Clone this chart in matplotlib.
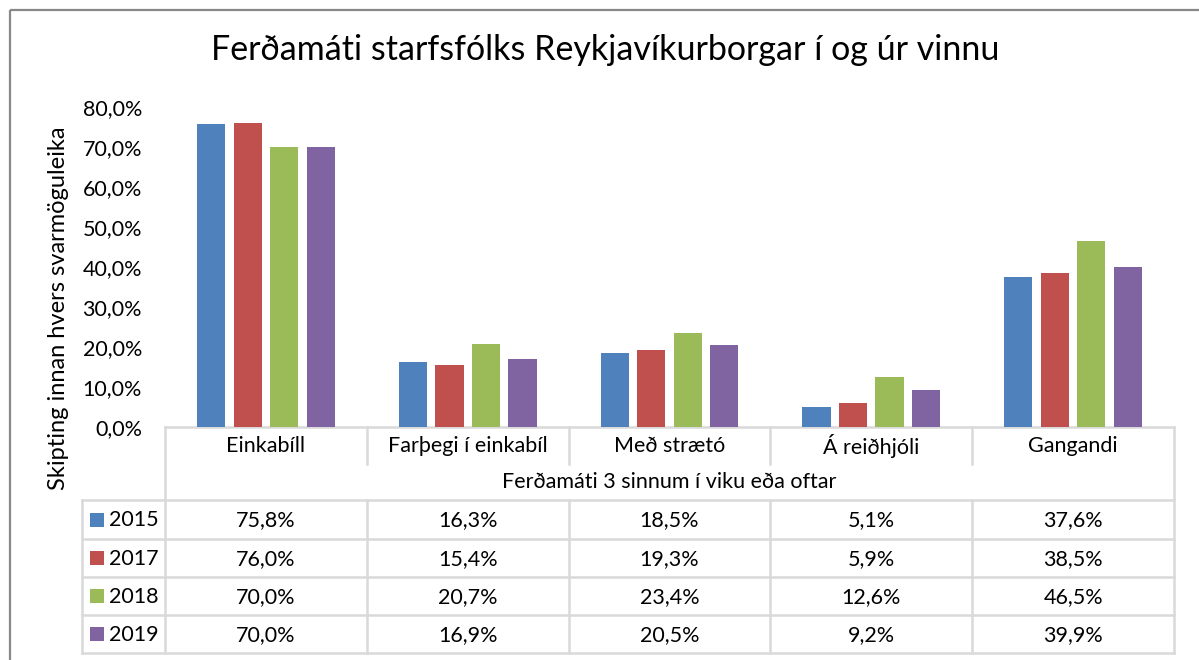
import numpy as np
import matplotlib.pyplot as plt
from matplotlib.patches import Rectangle

plt.rcParams['font.family'] = ['Lato', 'DejaVu Sans']

categories = ['Einkabíll', 'Farþegi í einkabíl', 'Með strætó', 'Á reiðhjóli', 'Gangandi']
years = ['2015', '2017', '2018', '2019']
values = {
    '2015': [75.8, 16.3, 18.5, 5.1, 37.6],
    '2017': [76.0, 15.4, 19.3, 5.9, 38.5],
    '2018': [70.0, 20.7, 23.4, 12.6, 46.5],
    '2019': [70.0, 16.9, 20.5, 9.2, 39.9],
}
colors = ['#4f81bd', '#c0504d', '#9bbb59', '#8064a2']
yticks = [0, 10, 20, 30, 40, 50, 60, 70, 80]
title = 'Ferðamáti starfsfólks Reykjavíkurborgar í og úr vinnu'
ylabel = 'Skipting innan hvers svarmöguleika'
table_caption = 'Ferðamáti 3 sinnum í viku eða oftar'

W, H = 1199, 660
fig = plt.figure(figsize=(W / 100, H / 100), dpi=100)
fs = 15.5

# overlay in pixel coords for frame and data table
ov = fig.add_axes([0, 0, 1, 1])
ov.set_xlim(0, W)
ov.set_ylim(H, 0)
ov.axis('off')
ov.add_patch(Rectangle((9.5, 9.5), 1300, 700, fill=False, ec='#888888', lw=1.6))

# bar plot area
x0, x1, ytop, ybot = 165, 1174, 107, 427
ax = fig.add_axes([x0 / W, 1 - ybot / H, (x1 - x0) / W, (ybot - ytop) / H])
ax.set_zorder(2)
ax.patch.set_alpha(0)
x = np.arange(len(categories))
step = 0.181
bw = 0.14
for i, yr in enumerate(years):
    ax.bar(x + (i - 1.5) * step, values[yr], bw, color=colors[i], zorder=3)
ax.set_xlim(-0.5, len(categories) - 0.5)
ax.set_ylim(0, 80)
ax.set_yticks(yticks)
ax.set_yticklabels([f'{t:.1f}%'.replace('.', ',') for t in yticks], fontsize=fs)
ax.set_xticks([])
for s in ax.spines.values():
    s.set_visible(False)
ax.tick_params(axis='y', length=0, pad=16.5)
ax.set_ylabel(ylabel, fontsize=17, va='center')
ax.yaxis.set_label_coords((59 - x0) / (x1 - x0), (ybot - 308) / (ybot - ytop))

fig.text(0.5 + 6 / W, 1 - 50 / H, title, ha='center', va='center', fontsize=24.5)

# data table
lc = '#d9d9d9'
lw = 1.8
cw = (x1 - x0) / len(categories)
row_top = 427
row_mid = 464
rows = [500, 539, 577, 615, 653]
lx = 82
ov.plot([x0, x1], [row_top, row_top], color=lc, lw=lw)
for k in range(len(categories) + 1):
    xx = x0 + k * cw
    if k in (0, len(categories)):
        ov.plot([xx, xx], [row_top, rows[-1]], color=lc, lw=lw)
    else:
        ov.plot([xx, xx], [row_top, row_mid], color=lc, lw=lw)
        ov.plot([xx, xx], [rows[0], rows[-1]], color=lc, lw=lw)
    if k < len(categories):
        ov.text(xx + cw / 2, (row_top + row_mid) / 2 + 1, categories[k],
                ha='center', va='center', fontsize=fs)
ov.text((x0 + x1) / 2, (row_mid + rows[0]) / 2, table_caption,
        ha='center', va='center', fontsize=fs)
for r in rows:
    ov.plot([lx, x1], [r, r], color=lc, lw=lw)
ov.plot([lx, lx], [rows[0], rows[-1]], color=lc, lw=lw)
for i, yr in enumerate(years):
    yc = (rows[i] + rows[i + 1]) / 2
    ov.add_patch(Rectangle((90, yc - 7), 14, 14, color=colors[i], lw=0))
    ov.text(109, yc + 1, yr, ha='left', va='center', fontsize=fs)
    for k, v in enumerate(values[yr]):
        ov.text(x0 + k * cw + cw / 2, yc + 1, f'{v:.1f}%'.replace('.', ','),
                ha='center', va='center', fontsize=fs)

fig.savefig('out.png', dpi=100)
